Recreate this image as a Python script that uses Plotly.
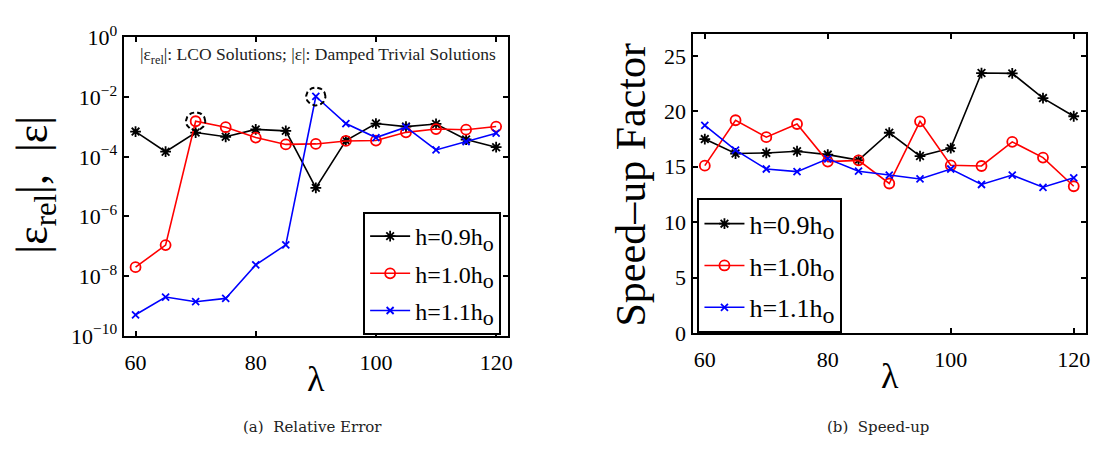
import math
import plotly.graph_objects as go

# ---------------- data ----------------
lam = [60, 65, 70, 75, 80, 85, 90, 95, 100, 105, 110, 115, 120]

# (a) relative error |eps_rel|, |eps|
err_h09 = [7.0e-4, 1.48e-4, 6.5e-4, 4.7e-4, 8.3e-4, 7.4e-4, 9.1e-6,
           3.5e-4, 1.3e-3, 1.03e-3, 1.26e-3, 3.8e-4, 2.1e-4]
err_h10 = [2.0e-8, 1.1e-7, 1.55e-3, 9.8e-4, 4.4e-4, 2.6e-4, 2.7e-4,
           3.4e-4, 3.5e-4, 6.6e-4, 8.5e-4, 8.1e-4, 1.03e-3]
err_h11 = [5.1e-10, 2.0e-9, 1.4e-9, 1.8e-9, 2.4e-8, 1.12e-7, 1.05e-2,
           1.3e-3, 4.4e-4, 9.8e-4, 1.7e-4, 3.2e-4, 6.2e-4]

# (b) speed-up factor
spd_h09 = [17.5, 16.2, 16.25, 16.4, 16.1, 15.6, 18.07,
           15.97, 16.68, 23.46, 23.43, 21.2, 19.56]
spd_h10 = [15.1, 19.2, 17.67, 18.86, 15.47, 15.58, 13.49,
           19.1, 15.13, 15.07, 17.25, 15.83, 13.24]
spd_h11 = [18.74, 16.5, 14.8, 14.56, 15.72, 14.6, 14.25,
           13.9, 14.8, 13.4, 14.25, 13.15, 14.0]

series_labels = ["h=0.9h", "h=1.0h", "h=1.1h"]
series_colors = ["#000000", "#ff0000", "#0000ff"]
series_symbols = ["asterisk-open", "circle-open", "x-thin-open"]
series_sizes = [9, 10, 7]

err_ticks = [1e-10, 1e-8, 1e-6, 1e-4, 1e-2, 1e0]
err_ticktext = ["10<sup>−10</sup>", "10<sup>−8</sup>", "10<sup>−6</sup>",
                "10<sup>−4</sup>", "10<sup>−2</sup>", "10<sup>0</sup>"]
lam_ticks = [60, 80, 100, 120]
spd_ticks = [0, 5, 10, 15, 20, 25]

# circled (damped trivial) points: (series index, lambda index)
circled = [(1, 2), (2, 6)]

FONT = "Liberation Serif"

fig = go.Figure()

err_data = [err_h09, err_h10, err_h11]
spd_data = [spd_h09, spd_h10, spd_h11]


def legend_name(label, size):
    return "%s<sub><span style='font-size:%dpx'>o</span></sub>" % (label, size)


for i in range(3):
    fig.add_trace(go.Scatter(
        x=lam, y=err_data[i], mode="lines+markers",
        name=legend_name(series_labels[i], 22),
        line=dict(color=series_colors[i], width=1.6),
        marker=dict(symbol=series_symbols[i], size=series_sizes[i],
                    color=series_colors[i], line=dict(width=1.8, color=series_colors[i])),
        xaxis="x", yaxis="y", legend="legend", legendgroup="a%d" % i,
    ))
for i in range(3):
    fig.add_trace(go.Scatter(
        x=lam, y=spd_data[i], mode="lines+markers",
        name=legend_name(series_labels[i], 24),
        line=dict(color=series_colors[i], width=1.6),
        marker=dict(symbol=series_symbols[i], size=series_sizes[i],
                    color=series_colors[i], line=dict(width=1.8, color=series_colors[i])),
        xaxis="x2", yaxis="y2", legend="legend2", legendgroup="b%d" % i,
    ))

# dashed circles around the damped trivial solution points
# (radius ~10 px: 1.6 lambda units horizontally, 0.3 decade vertically)
n_pts = 60
for si, li in circled:
    cx = lam[li]
    cv = err_data[si][li]
    xs, ys = [], []
    for k in range(n_pts + 1):
        t = 2 * math.pi * k / n_pts
        xs.append(cx + 1.6 * math.cos(t))
        ys.append(cv * 10 ** (0.3 * math.sin(t)))
    fig.add_trace(go.Scatter(
        x=xs, y=ys, mode="lines", showlegend=False, hoverinfo="skip",
        line=dict(color="black", width=2, dash="5px,3px"),
        xaxis="x", yaxis="y",
    ))

axis_common = dict(showline=True, linecolor="black", linewidth=2, mirror="ticks",
                   ticks="inside", ticklen=5, tickwidth=1.5, tickcolor="black",
                   showgrid=False, zeroline=False,
                   tickfont=dict(family=FONT, size=22, color="black"))

fig.update_layout(
    width=1102, height=466,
    margin=dict(l=0, r=0, t=0, b=0),
    paper_bgcolor="white", plot_bgcolor="white",
    font=dict(family=FONT, color="black"),
    xaxis=dict(domain=[0.1125, 0.4628], range=[58, 122], tickvals=lam_ticks,
               anchor="y", ticklabelstandoff=6, **axis_common),
    yaxis=dict(domain=[0.268, 0.951], type="log", range=[-10, 0],
               tickvals=err_ticks, ticktext=err_ticktext, anchor="x",
               ticklabelstandoff=0, **axis_common),
    xaxis2=dict(domain=[0.6307, 0.9891], range=[58, 122], tickvals=lam_ticks,
                anchor="y2", ticklabelstandoff=6, **axis_common),
    yaxis2=dict(domain=[0.2747, 0.9592], range=[0, 27], tickvals=spd_ticks,
                anchor="x2", ticklabelstandoff=0, **axis_common),
    legend=dict(x=0.4564, xanchor="right", y=0.270, yanchor="bottom",
                bgcolor="white", bordercolor="black", borderwidth=2,
                font=dict(family=FONT, size=24, color="black"),
                itemwidth=40, tracegroupgap=3),
    legend2=dict(x=0.6352, xanchor="left", y=0.274, yanchor="bottom",
                 bgcolor="white", bordercolor="black", borderwidth=2,
                 font=dict(family=FONT, size=26, color="black"),
                 itemwidth=40, tracegroupgap=5),
    showlegend=True,
)

annotations = [
    dict(text="|ε<sub>rel</sub>|: LCO Solutions; |ε|: Damped Trivial Solutions",
         x=319.5 / 1102, y=(466 - 42) / 466, xref="paper", yref="paper",
         xanchor="center", yanchor="middle",
         showarrow=False, font=dict(family=FONT, size=17.5, color="#222")),
    dict(text="|ε<sub>rel</sub>|,  |ε|", x=36 / 1102, y=(466 - 180) / 466,
         xref="paper", yref="paper", textangle=-90, showarrow=False,
         xanchor="center", yanchor="middle",
         font=dict(family=FONT, size=44, color="black")),
    dict(text="Speed–up Factor", x=633 / 1102, y=(466 - 180) / 466,
         xref="paper", yref="paper", textangle=-90, showarrow=False,
         xanchor="center", yanchor="middle",
         font=dict(family=FONT, size=42, color="black")),
    dict(text="λ", x=317 / 1102, y=(466 - 387) / 466, xref="paper", yref="paper",
         xanchor="center", yanchor="middle",
         showarrow=False, font=dict(family=FONT, size=36, color="black")),
    dict(text="λ", x=893 / 1102, y=(466 - 384) / 466, xref="paper", yref="paper",
         xanchor="center", yanchor="middle",
         showarrow=False, font=dict(family=FONT, size=36, color="black")),
    dict(text="(a)  Relative Error", x=314 / 1102, y=(466 - 438) / 466,
         xref="paper", yref="paper", showarrow=False,
         xanchor="center", yanchor="middle",
         font=dict(family="DejaVu Serif", size=15, color="#222")),
    dict(text="(b)  Speed-up", x=881 / 1102, y=(466 - 438) / 466,
         xref="paper", yref="paper", showarrow=False,
         xanchor="center", yanchor="middle",
         font=dict(family="DejaVu Serif", size=15, color="#222")),
]
fig.update_layout(annotations=annotations)

fig.write_html("out.html")
